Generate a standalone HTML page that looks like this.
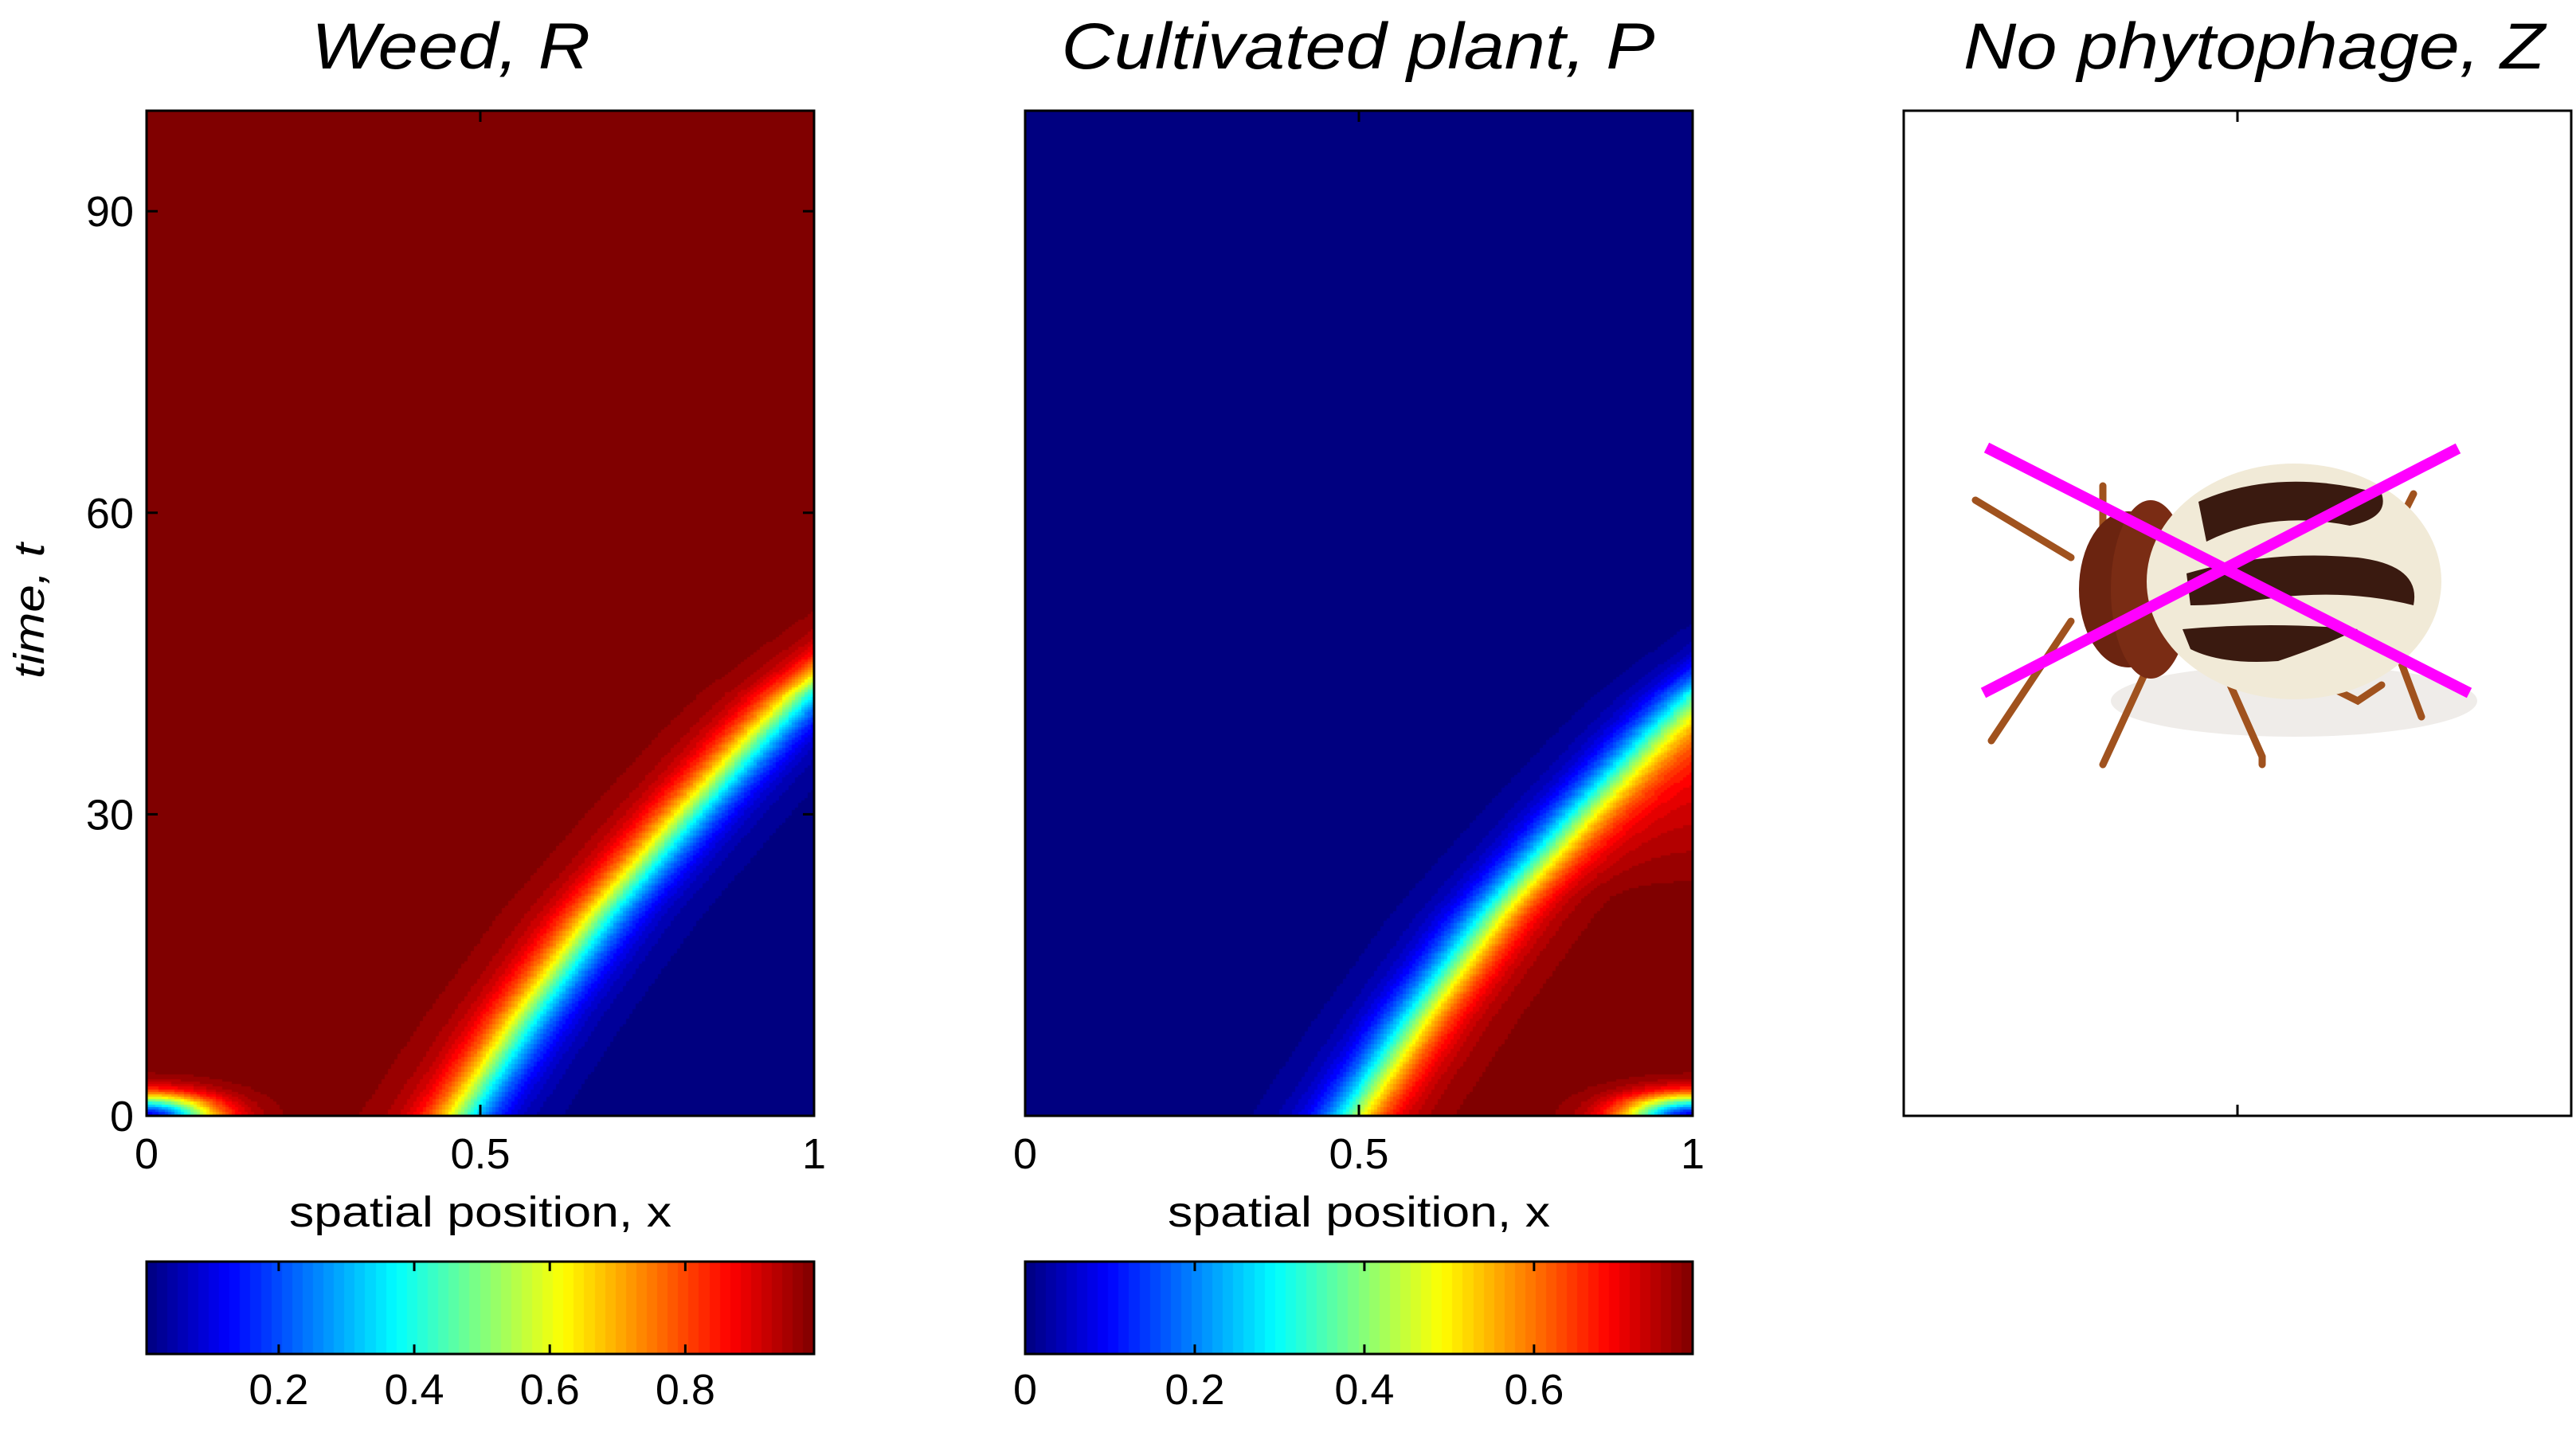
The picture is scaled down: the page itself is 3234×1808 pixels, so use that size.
<!DOCTYPE html>
<html><head><meta charset="utf-8"><style>
html,body{margin:0;padding:0;background:#fff;width:3234px;height:1808px;overflow:hidden}
svg{position:absolute;left:0;top:0}
canvas{position:absolute}
text{font-family:"Liberation Sans",sans-serif;fill:#000}
</style></head><body>
<canvas id="cR" width="838" height="1262" style="left:184px;top:139px"></canvas>
<canvas id="cP" width="838" height="1262" style="left:1287px;top:139px"></canvas>
<canvas id="cb1" width="838" height="116" style="left:184px;top:1584px"></canvas>
<canvas id="cb2" width="838" height="116" style="left:1287px;top:1584px"></canvas>
<svg id="s" width="3234" height="1808">
<text x="566" y="86" font-size="82" font-style="italic" text-anchor="middle" textLength="350" lengthAdjust="spacingAndGlyphs">Weed, R</text>
<text x="1705" y="86" font-size="82" font-style="italic" text-anchor="middle" textLength="745" lengthAdjust="spacingAndGlyphs">Cultivated plant, P</text>
<text x="2830" y="86" font-size="82" font-style="italic" text-anchor="middle" textLength="730" lengthAdjust="spacingAndGlyphs">No phytophage, Z</text>
<text transform="translate(55,767) rotate(-90)" font-size="54" font-style="italic" text-anchor="middle" textLength="170" lengthAdjust="spacingAndGlyphs">time, t</text>
<text x="603" y="1540" font-size="54" text-anchor="middle" textLength="480" lengthAdjust="spacingAndGlyphs">spatial position, x</text>
<text x="1706" y="1540" font-size="54" text-anchor="middle" textLength="480" lengthAdjust="spacingAndGlyphs">spatial position, x</text>
<g id="axes"></g>
<g>
<ellipse cx="2880" cy="880" rx="230" ry="45" fill="#e8e4e0" opacity="0.7"/>
<g stroke="#a0521e" stroke-width="9" fill="none" stroke-linecap="round">
<path d="M2600 700 L2480 628"/><path d="M2600 780 L2500 930"/>
<path d="M2640 680 L2640 610"/><path d="M2700 830 L2640 960"/>
<path d="M2800 860 L2840 950 L2840 960"/><path d="M2900 850 L2960 880 L2990 860"/>
<path d="M3010 820 L3040 900"/><path d="M3010 660 L3030 620"/>
</g>
<ellipse cx="2672" cy="740" rx="62" ry="98" fill="#6b2410"/>
<ellipse cx="2700" cy="740" rx="50" ry="112" fill="#7a2c14"/>
<ellipse cx="2880" cy="730" rx="185" ry="148" fill="#f1ead7"/>
<g fill="#3a1a10">
<path d="M2760 630 Q2860 585 2990 620 Q3000 650 2950 660 Q2850 640 2770 680 Z"/>
<path d="M2745 720 Q2850 690 2960 700 Q3040 710 3030 760 Q2950 740 2860 750 Q2790 760 2750 760 Z"/>
<path d="M2740 790 Q2850 780 2960 790 Q2920 810 2860 830 Q2790 835 2750 815 Z"/>
</g>
</g>
<line x1="2494" y1="562" x2="3100" y2="870" stroke="#ff00ff" stroke-width="14"/>
<line x1="2490" y1="870" x2="3086" y2="563" stroke="#ff00ff" stroke-width="14"/>
</svg>
<script>
// data: front position of weed/plant boundary over time
const frontT = [0, 3, 10, 20, 30, 38, 42, 46, 55];
const frontX = [0.47, 0.5, 0.57, 0.68, 0.81, 0.92, 0.98, 1.06, 1.25];
const yTicks = [0, 30, 60, 90];
const xTicks = [0, 0.5, 1];
const xTickLabels = ['0', '0.5', '1'];
const cb1Ticks = [0.2, 0.4, 0.6, 0.8];
const cb1Range = [0.005, 0.99];
const cb2Ticks = [0, 0.2, 0.4, 0.6];
const cb2Range = [0, 0.787];
const tMax = 100;

function jet(v){
  v=Math.max(0,Math.min(1,v));
  const r=Math.max(0,Math.min(1,1.5-Math.abs(4*v-3)));
  const g=Math.max(0,Math.min(1,1.5-Math.abs(4*v-2)));
  const b=Math.max(0,Math.min(1,1.5-Math.abs(4*v-1)));
  return 'rgb('+Math.round(r*255)+','+Math.round(g*255)+','+Math.round(b*255)+')';
}
function front(t){
  for(let i=0;i<frontT.length-1;i++){
    if(t<=frontT[i+1]){const f=(t-frontT[i])/(frontT[i+1]-frontT[i]);return frontX[i]+f*(frontX[i+1]-frontX[i]);}
  }
  return frontX[frontX.length-1];
}
function Rval(x,t){
  let r=1/(1+Math.exp((x-front(t))/0.035));
  const blob=Math.exp(-(x*x)/(2*0.07*0.07)-(t*t)/(2*1.5*1.5));
  r=r*(1-0.9*blob);
  return 0.005+0.985*r;
}
function Pval(x,t){
  let p=1-1/(1+Math.exp((x-front(t)-0.02)/0.035));
  const blob=Math.exp(-((x-1)*(x-1))/(2*0.07*0.07)-(t*t)/(2*1.5*1.5));
  p=p*(1-0.9*blob);
  const fade=t>22?Math.max(0.85,1-(t-22)*0.008):1;
  return 0.787*p*fade;
}
const W=838,H=1262;
const xS=x=>x*W, yS=t=>H-t/tMax*H;
function drawHeat(id,fn,range){
  const c=document.getElementById(id).getContext('2d');
  const nx=210,nt=400;
  for(let i=0;i<nx;i++)for(let j=0;j<nt;j++){
    const x=(i+0.5)/nx,t=(j+0.5)/nt*tMax;
    const v=(fn(x,t)-range[0])/(range[1]-range[0]);
    c.fillStyle=jet(Math.round(v*40)/40);
    c.fillRect(Math.floor(xS(i/nx)),Math.floor(yS((j+1)/nt*tMax)),Math.ceil(W/nx)+1,Math.ceil(H/nt)+1);
  }
}
drawHeat('cR',Rval,cb1Range);
drawHeat('cP',Pval,cb2Range);
function drawCb(id){
  const c=document.getElementById(id).getContext('2d');
  for(let i=0;i<64;i++){c.fillStyle=jet((i+0.5)/64);c.fillRect(Math.floor(i*W/64),0,Math.ceil(W/64)+1,116);}
}
drawCb('cb1');drawCb('cb2');
const NS='http://www.w3.org/2000/svg';
const g=document.getElementById('axes');
function el(tag,attrs,txt){const e=document.createElementNS(NS,tag);for(const k in attrs)e.setAttribute(k,attrs[k]);if(txt!==undefined)e.textContent=txt;g.appendChild(e);return e;}
function box(x,y,w,h,name){
  const e=el('rect',{x:x,y:y,width:w,height:h,fill:'none',stroke:'#000','stroke-width':3});
  
  
}
[[184,'weed'],[1287,'plant'],[2390,'phytophage']].forEach(([x0,n])=>{
  box(x0,139,W,H,n+'-axes');
  xTicks.forEach((v,k)=>{
    const x=x0+xS(v);
    el('line',{x1:x,y1:1401,x2:x,y2:1387,stroke:'#000','stroke-width':3});
    el('line',{x1:x,y1:139,x2:x,y2:153,stroke:'#000','stroke-width':3});
    if(n!=='phytophage'){
      const t=el('text',{x:x,y:1467,'font-size':54,'text-anchor':'middle'},xTickLabels[k]);
      
      
    }
  });
  if(n==='weed'){
    yTicks.forEach(v=>{
      const y=139+yS(v);
      el('line',{x1:x0,y1:y,x2:x0+14,y2:y,stroke:'#000','stroke-width':3});
      el('line',{x1:x0+W,y1:y,x2:x0+W-14,y2:y,stroke:'#000','stroke-width':3});
      const t=el('text',{x:168,y:y+19,'font-size':54,'text-anchor':'end'},String(v));
      
      
    });
  }
});
[[184,cb1Ticks,cb1Range],[1287,cb2Ticks,cb2Range]].forEach(([x0,ticks,rng],k)=>{
  box(x0,1584,W,116,k?'plant-colorbar-frame':'weed-colorbar-frame');
  ticks.forEach(v=>{
    const x=x0+(v-rng[0])/(rng[1]-rng[0])*W;
    el('line',{x1:x,y1:1584,x2:x,y2:1596,stroke:'#000','stroke-width':3});
    el('line',{x1:x,y1:1700,x2:x,y2:1688,stroke:'#000','stroke-width':3});
    const t=el('text',{x:x,y:1763,'font-size':54,'text-anchor':'middle'},String(v));
    
    
  });
});
</script>
</body></html>
